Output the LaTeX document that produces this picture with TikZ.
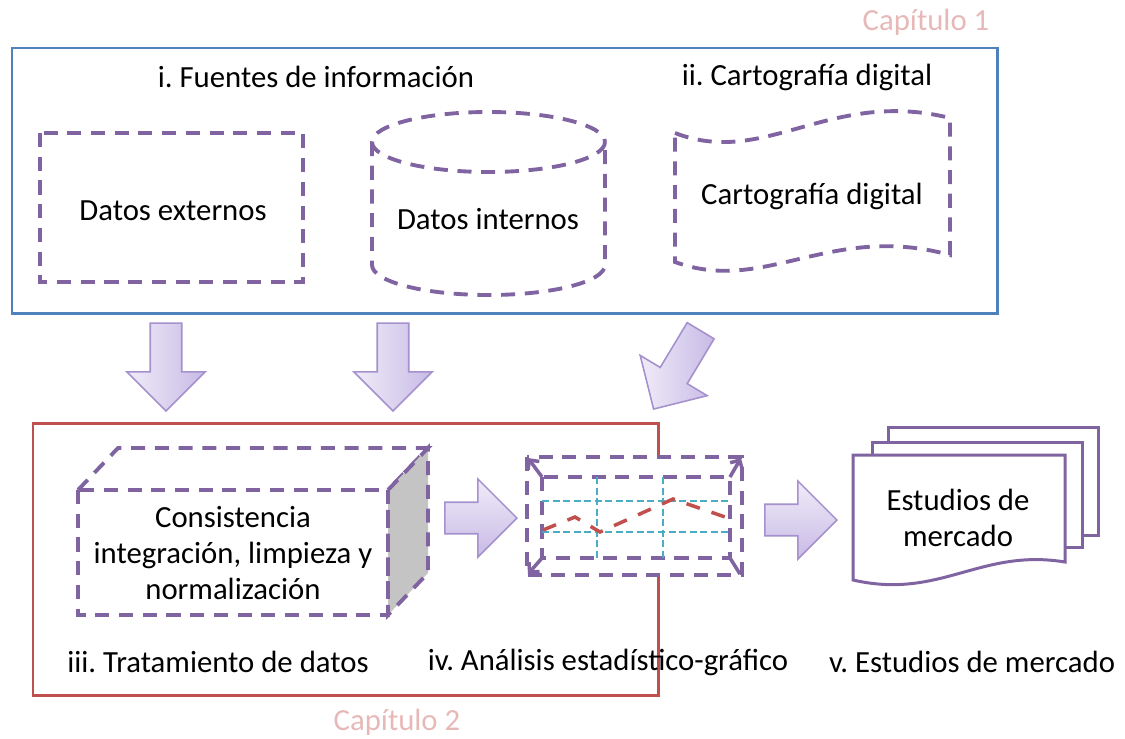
\documentclass[tikz,border=0pt]{standalone}
\usepackage{fontspec}
\setmainfont{Carlito}
\usetikzlibrary{arrows.meta,shapes.arrows}
\frenchspacing

\definecolor{azulcap}{RGB}{79,129,189}
\definecolor{rojocap}{RGB}{192,80,77}
\definecolor{morado}{RGB}{128,100,162}
\definecolor{rosa}{RGB}{230,185,184}
\definecolor{cian}{RGB}{75,172,198}
\definecolor{gris}{RGB}{196,196,196}
\definecolor{lila}{RGB}{165,145,205}
\definecolor{lilaclaro}{RGB}{240,236,248}
\definecolor{lilaoscuro}{RGB}{200,186,230}

\tikzset{
  texto/.style={font=\fontsize{17.5}{20.5}\selectfont, align=center, inner sep=0pt},
  discont/.style={draw=morado, line width=2.2pt, dash pattern=on 8pt off 5.5pt},
  capbox/.style={line width=1.7pt},
  flecha/.style={single arrow, draw=lila, line width=0.9pt, left color=lilaclaro,
    right color=lilaoscuro, inner xsep=0pt, inner ysep=8.5pt,
    single arrow head extend=13.3pt, anchor=tip},
}

\begin{document}
\begin{tikzpicture}[x=0.02cm, y=-0.02cm]
    \useasboundingbox (0,0) rectangle (1125,738);

    % capitulos
    \draw[capbox, azulcap] (12,48) rectangle (997,313);
    \draw[capbox, rojocap] (33,423) rectangle (658,695);
    \node[texto, text=rosa] (cap1) at (926,22) {Capítulo 1};
    \node[texto, text=rosa] (cap2) at (397,722) {Capítulo 2};

    % fuentes
    \draw[discont] (40,133) rectangle (303,282);
    \draw[discont] (488.5,142) ellipse [x radius=116.5, y radius=30];
    \draw[discont] (372,142) -- (372,265) arc[start angle=180, end angle=0, x radius=116.5, y radius=30] -- (605,142);
    \draw[discont] (675,133) .. controls (765,168) and (830,88) .. (950,118) -- (950,255)
      .. controls (830,222) and (765,295) .. (675,262) -- cycle;

    % nodes
    \node[texto] (fuentes) at (316,77) {i. Fuentes de información};
    \node[texto] (carto) at (807,77) {ii. Cartografía digital};
    \node[texto] (externos) at (173,211) {Datos externos};
    \node[texto] (internos) at (488,219) {Datos internos};
    \node[texto] (cartodig) at (812,196) {Cartografía digital};

    % cubo
    \draw[discont] (78,490) -- (118,448) -- (428,448) -- (388,490);
    \draw[discont, fill=gris] (388,490) -- (428,448) -- (428,573) -- (388,615) -- cycle;
    \draw[discont] (78,490) rectangle (388,615);
    \node[texto] (consist) at (233,553) {Consistencia\\integración, limpieza y\\normalización};

    % grafico
    \draw[discont, fill=white] (527,457) rectangle (742,575);
    \draw[discont] (542,477) rectangle (730,558);
    \draw[cian, line width=0.9pt, dash pattern=on 4pt off 2pt]
      (542,501) -- (730,501) (542,532) -- (730,532)
      (597,477) -- (597,558) (663,477) -- (663,558);
    \draw[rojocap, line width=2pt, dash pattern=on 8pt off 7pt]
      (543,530) -- (575,517) -- (600,532) -- (673,499) -- (728,518);
    \draw[morado, line width=2pt, -{Straight Barb[length=4pt,width=8pt]}] (542,477) -- (528,458); % esquina
    \draw[morado, line width=2pt, -{Straight Barb[length=4pt,width=8pt]}] (730,477) -- (741,458); % esquina
    \draw[morado, line width=2pt, -{Straight Barb[length=4pt,width=8pt]}] (542,558) -- (528,574); % esquina
    \draw[morado, line width=2pt] (730,558) -- (740,574); % esquina

    % documentos
    \draw[morado, line width=1.7pt, fill=white] (888,427) rectangle (1098,535);
    \draw[morado, line width=1.7pt, fill=white] (872,442) rectangle (1082,547);
    \draw[morado, line width=1.7pt, fill=white] (853,455) -- (1065,455) -- (1065,562)
      .. controls (980,548) and (940,600) .. (853,580) -- cycle;
    \node[texto] (estudios) at (958,518) {Estudios de\\mercado};

    % etiquetas
    \node[texto] (tratam) at (218,662) {iii. Tratamiento de datos};
    \node[texto] (analisis) at (608,662) {iv. Análisis estadístico-gráfico};
    \node[texto] (mercado) at (972,662) {v. Estudios de mercado};

    % flechas
    \node[flecha, rotate=-90, minimum height=50pt] (f1) at (166,412) {}; % externos -> tratamiento
    \node[flecha, rotate=-90, minimum height=50pt] (f2) at (393,412) {}; % internos -> tratamiento
    \node[flecha, rotate=-121, minimum height=52pt] (f3) at (653,410) {}; % cartografia -> analisis
    \node[flecha, top color=lilaclaro, bottom color=lilaoscuro, minimum height=41pt] (f4) at (518,518) {}; % tratamiento -> analisis
    \node[flecha, top color=lilaclaro, bottom color=lilaoscuro, minimum height=41pt] (f5) at (838,520) {}; % analisis -> estudios

\end{tikzpicture}
\end{document}
